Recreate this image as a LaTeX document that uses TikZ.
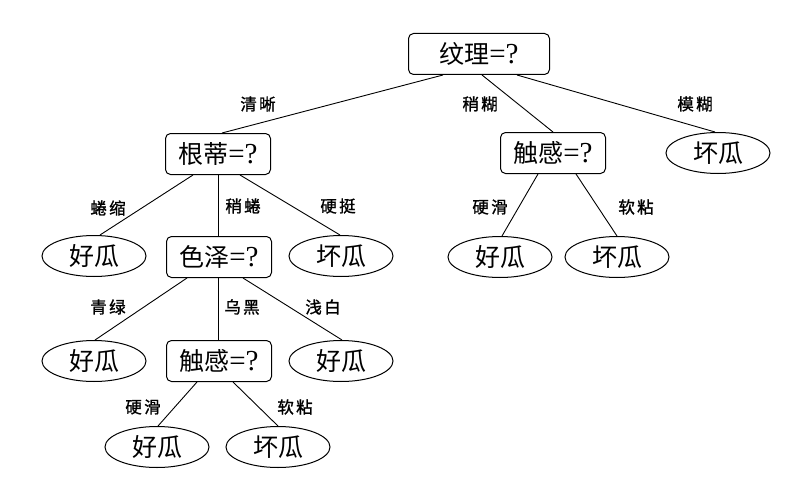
\documentclass[tikz,border=0pt]{standalone}
\usepackage{fontspec}
\setmainfont{Liberation Serif}
\newfontfamily\cjk{Noto Sans CJK SC}
\newfontfamily\cjklbl{Noto Sans CJK SC}[LetterSpace=14,FakeBold=1.2]
\newcommand{\qm}{{\rmfamily\fontsize{29}{29}\selectfont =?}}
\usetikzlibrary{shapes.geometric}
\tikzset{
  qbox/.style={draw, line width=1pt, rounded corners=5pt, minimum width=105pt, minimum height=41pt, inner sep=0pt, font=\cjk\fontsize{25}{25}\selectfont},
  leaf/.style={draw, ellipse, line width=1pt, minimum width=104pt, minimum height=41pt, inner sep=0pt, font=\cjk\fontsize{25}{25}\selectfont},
  lbl/.style={font=\cjklbl\fontsize{16.5}{16.5}\selectfont, inner sep=0pt},
  edge/.style={line width=0.9pt}
}
\begin{document}
\begin{tikzpicture}[x=1pt,y=-1pt]
\useasboundingbox (0,0) rectangle (795,495);
\fill[white] (0,0) rectangle (795,495);
% nodes
\node[qbox, minimum width=141pt] (root) at (479,54) {纹理\qm};
\node[qbox] (gd) at (218,154) {根蒂\qm};
\node[qbox] (ch1) at (553,153) {触感\qm};
\node[leaf] (bad1) at (718,153) {坏瓜};
\node[leaf] (good1) at (94,256) {好瓜};
\node[qbox] (sz) at (219,257) {色泽\qm};
\node[leaf] (bad2) at (341,256) {坏瓜};
\node[leaf] (good2) at (500,257) {好瓜};
\node[leaf] (bad3) at (617,257) {坏瓜};
\node[leaf] (good3) at (94,361) {好瓜};
\node[qbox] (ch2) at (219,361) {触感\qm};
\node[leaf] (good4) at (341,361) {好瓜};
\node[leaf] (good5) at (157,447) {好瓜};
\node[leaf] (bad4) at (278,447) {坏瓜};
% edges
\draw[edge] ([xshift=-36pt]root.south) -- ([xshift=4pt]gd.north);
\draw[edge] ([xshift=3pt]root.south) -- (ch1.north);
\draw[edge] ([xshift=38pt]root.south) -- ([xshift=-3pt]bad1.north);
\draw[edge] ([xshift=-25pt]gd.south) -- ([xshift=6pt]good1.north);
\draw[edge] (gd.south) -- ([xshift=-1pt]sz.north);
\draw[edge] ([xshift=22pt]gd.south) -- ([xshift=-1pt]bad2.north);
\draw[edge] ([xshift=-15pt]ch1.south) -- ([xshift=2pt]good2.north);
\draw[edge] ([xshift=23pt]ch1.south) -- (bad3.north);
\draw[edge] ([xshift=-32pt]sz.south) -- ([xshift=1pt]good3.north);
\draw[edge] ([xshift=-1pt]sz.south) -- ([xshift=-1pt]ch2.north);
\draw[edge] ([xshift=24pt]sz.south) -- ([xshift=1pt]good4.north);
\draw[edge] ([xshift=-22pt]ch2.south) -- ([xshift=1pt]good5.north);
\draw[edge] ([xshift=14pt]ch2.south) -- (bad4.north);
% labels
\node[lbl] (l1) at (258,104) {清晰};
\node[lbl] (l2) at (480,104) {稍糊};
\node[lbl] (l3) at (695,104) {模糊};
\node[lbl] (l4) at (108,208) {蜷缩};
\node[lbl] (l5) at (243,206) {稍蜷};
\node[lbl] (l6) at (338,206) {硬挺};
\node[lbl] (l7) at (490,207) {硬滑};
\node[lbl] (l8) at (636,207) {软粘};
\node[lbl] (l9) at (108,307) {青绿};
\node[lbl] (l10) at (242,307) {乌黑};
\node[lbl] (l11) at (323,307) {浅白};
\node[lbl] (l12) at (143,407) {硬滑};
\node[lbl] (l13) at (295,407) {软粘};
\end{tikzpicture}
\end{document}
